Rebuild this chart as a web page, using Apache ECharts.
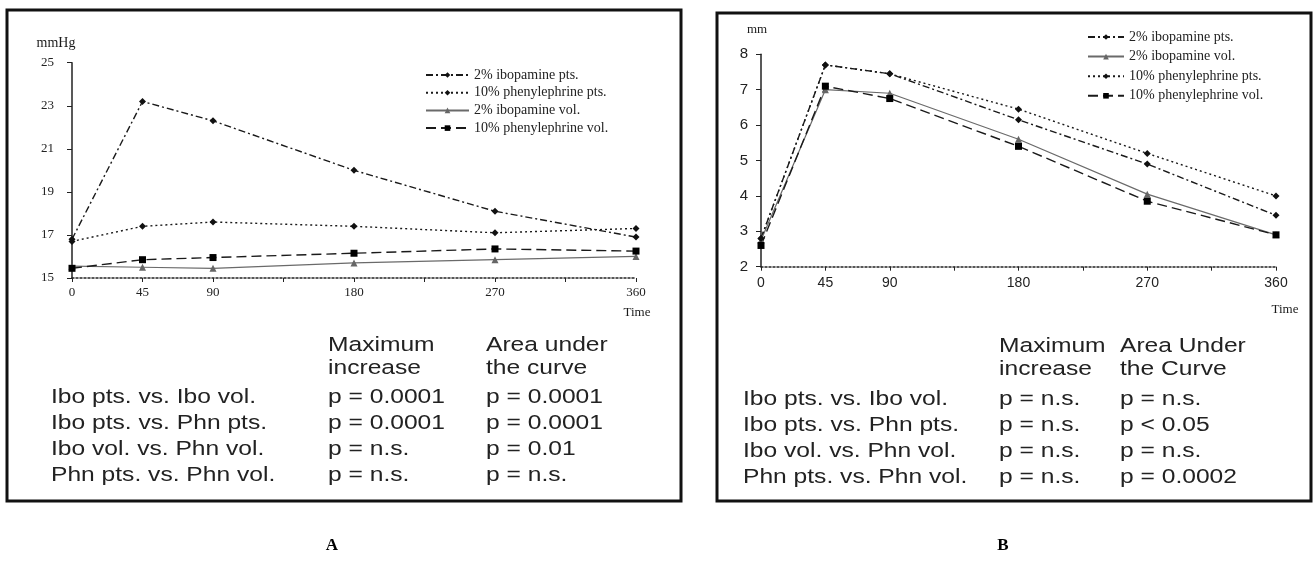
<!DOCTYPE html>
<html><head><meta charset="utf-8">
<script src="https://cdn.jsdelivr.net/npm/echarts@6/dist/echarts.min.js"></script>
<style>html,body{margin:0;padding:0;background:#fff;}#c{width:1315px;height:564px;}</style>
</head><body><div id="c"></div>
<script>
// ---- data ----
const times = [0, 45, 90, 180, 270, 360];
const xTickLabels = [0, 45, 90, 180, 270, 360];

const iboPtsA = [16.8, 23.2, 22.3, 20.0, 18.1, 16.9];
const phnPtsA = [16.7, 17.4, 17.6, 17.4, 17.1, 17.3];
const iboVolA = [15.55, 15.5, 15.45, 15.7, 15.85, 16.0];
const phnVolA = [15.45, 15.85, 15.95, 16.15, 16.35, 16.25];

const iboPtsB = [2.8, 7.7, 7.45, 6.15, 4.9, 3.45];
const iboVolB = [2.75, 7.0, 6.9, 5.6, 4.05, 2.9];
const phnPtsB = [2.8, 7.7, 7.45, 6.45, 5.2, 4.0];
const phnVolB = [2.6, 7.1, 6.75, 5.4, 3.85, 2.9];

const nIboPts = '2% ibopamine pts.';
const nPhnPts = '10% phenylephrine pts.';
const nIboVol = '2% ibopamine vol.';
const nPhnVol = '10% phenylephrine vol.';
const legendOrderA = [nIboPts, nPhnPts, nIboVol, nPhnVol];
const legendOrderB = [nIboPts, nIboVol, nPhnPts, nPhnVol];

const rowLabels = ['Ibo pts. vs. Ibo vol.', 'Ibo pts. vs. Phn pts.', 'Ibo vol. vs. Phn vol.', 'Phn pts. vs. Phn vol.'];
const headA = [['Maximum', 'increase'], ['Area under', 'the curve']];
const maxIncA = ['p = 0.0001', 'p = 0.0001', 'p = n.s.', 'p = n.s.'];
const aucA = ['p = 0.0001', 'p = 0.0001', 'p = 0.01', 'p = n.s.'];
const headB = [['Maximum', 'increase'], ['Area Under', 'the Curve']];
const maxIncB = ['p = n.s.', 'p = n.s.', 'p = n.s.', 'p = n.s.'];
const aucB = ['p = n.s.', 'p < 0.05', 'p = n.s.', 'p = 0.0002'];

// ---- styles ----
const SERIF = 'Liberation Serif';
const SANS = 'Liberation Sans';
const styles = {};
styles[nIboPts] = {type: [7, 3, 2, 3], color: '#1a1a1a', width: 1.4, symbol: 'diamond', size: 7, mcolor: '#111'};
styles[nPhnPts] = {type: [2, 3], color: '#1a1a1a', width: 1.4, symbol: 'diamond', size: 7, mcolor: '#111'};
styles[nIboVol] = {type: 'solid', color: '#6a6a6a', width: 1.2, symbol: 'triangle', size: 7, mcolor: '#666'};
styles[nPhnVol] = {type: [10, 5], color: '#1a1a1a', width: 1.4, symbol: 'rect', size: 7, mcolor: '#000'};

function mk(name, vals, idx) {
  const s = styles[name];
  return {
    name: name, type: 'line', xAxisIndex: idx, yAxisIndex: idx,
    data: times.map((t, i) => [t, vals[i]]),
    symbol: s.symbol, symbolSize: s.size,
    lineStyle: {type: s.type, color: s.color, width: s.width},
    itemStyle: {color: s.mcolor},
    z: 3
  };
}

function xAx(idx, fs, fam, margin) {
  return {
    gridIndex: idx, type: 'value', min: 0, max: 360, interval: 45,
    axisLine: {show: true, onZero: false, lineStyle: {color: '#222', width: 1.5, type: [2, 2]}},
    axisTick: {show: true, length: 4, lineStyle: {color: '#222'}},
    axisLabel: {margin: margin, fontSize: fs, fontFamily: fam, color: '#222',
      formatter: v => xTickLabels.indexOf(v) >= 0 ? String(v) : ''},
    splitLine: {show: false}
  };
}
function yAx(idx, min, max, interval, fs, fam, margin) {
  return {
    gridIndex: idx, type: 'value', min: min, max: max, interval: interval,
    axisLine: {show: true, lineStyle: {color: '#222', width: 1.5}},
    axisTick: {show: true, length: 5, lineStyle: {color: '#222'}},
    axisLabel: {margin: margin, fontSize: fs, fontFamily: fam, color: '#222'},
    splitLine: {show: false}
  };
}

function txt(x, y, text, opts) {
  opts = opts || {};
  return {
    type: 'text', x: x, y: y, scaleX: opts.sx || 1, z: 10,
    style: {text: text, fill: opts.fill || '#1a1a1a', fontSize: opts.fs || 13,
      fontFamily: opts.fam || SERIF, fontWeight: opts.fw || 'normal',
      align: opts.align || 'left', verticalAlign: 'middle'}
  };
}

function table(x0, xc1, xc2, headY, rowY, head, c1, c2) {
  const o = {fs: 20.5, fam: SANS, sx: 1.2, fill: '#222'};
  const els = [];
  els.push(txt(xc1, headY[0], head[0][0], o));
  els.push(txt(xc1, headY[1], head[0][1], o));
  els.push(txt(xc2, headY[0], head[1][0], o));
  els.push(txt(xc2, headY[1], head[1][1], o));
  rowLabels.forEach((r, i) => {
    els.push(txt(x0, rowY[i], r, o));
    els.push(txt(xc1, rowY[i], c1[i], o));
    els.push(txt(xc2, rowY[i], c2[i], o));
  });
  return els;
}

const graphics = [
  {type: 'rect', shape: {x: 7, y: 10, width: 674, height: 491}, style: {fill: 'none', stroke: '#111', lineWidth: 3}, z: 1},
  {type: 'rect', shape: {x: 717, y: 13, width: 594, height: 488}, style: {fill: 'none', stroke: '#111', lineWidth: 3}, z: 1},
  txt(56, 43, 'mmHg', {fs: 14, align: 'center'}),
  txt(637, 313, 'Time', {fs: 13, align: 'center'}),
  txt(757, 30, 'mm', {fs: 13, align: 'center'}),
  txt(1285, 310, 'Time', {fs: 13, align: 'center'}),
  txt(332, 546, 'A', {fs: 17, fw: 'bold', align: 'center', fill: '#000'}),
  txt(1003, 546, 'B', {fs: 17, fw: 'bold', align: 'center', fill: '#000'})
].concat(
  table(51, 328, 486, [345, 368], [397, 423, 449, 475], headA, maxIncA, aucA),
  table(743, 999, 1120, [346, 369], [399, 425, 451, 477], headB, maxIncB, aucB)
);

const legendBase = {
  orient: 'vertical', padding: 0, itemHeight: 7,
  textStyle: {fontFamily: SERIF, fontSize: 14, color: '#222', lineHeight: 14},
  selectedMode: false
};

const option = {
  animation: false,
  backgroundColor: '#fff',
  grid: [
    {left: 72, top: 62.7, width: 564, height: 215.3},
    {left: 761, top: 54.3, width: 515, height: 212.4}
  ],
  xAxis: [xAx(0, 13, SERIF, 8), xAx(1, 14, SANS, 9)],
  yAxis: [yAx(0, 15, 25, 2, 13, SERIF, 18), yAx(1, 2, 8, 1, 15, SANS, 13)],
  legend: [
    Object.assign({}, legendBase, {left: 425, top: 68, itemWidth: 43, itemGap: 3.7, data: legendOrderA}),
    Object.assign({}, legendBase, {left: 1087, top: 30, itemWidth: 36, itemGap: 5.6, data: legendOrderB})
  ],
  series: [
    mk(nIboPts, iboPtsA, 0), mk(nPhnPts, phnPtsA, 0), mk(nIboVol, iboVolA, 0), mk(nPhnVol, phnVolA, 0),
    mk(nIboPts, iboPtsB, 1), mk(nIboVol, iboVolB, 1), mk(nPhnPts, phnPtsB, 1), mk(nPhnVol, phnVolB, 1)
  ],
  graphic: graphics
};

const chart = echarts.init(document.getElementById('c'), null, {renderer: 'canvas'});
chart.setOption(option);
</script>
</body></html>
